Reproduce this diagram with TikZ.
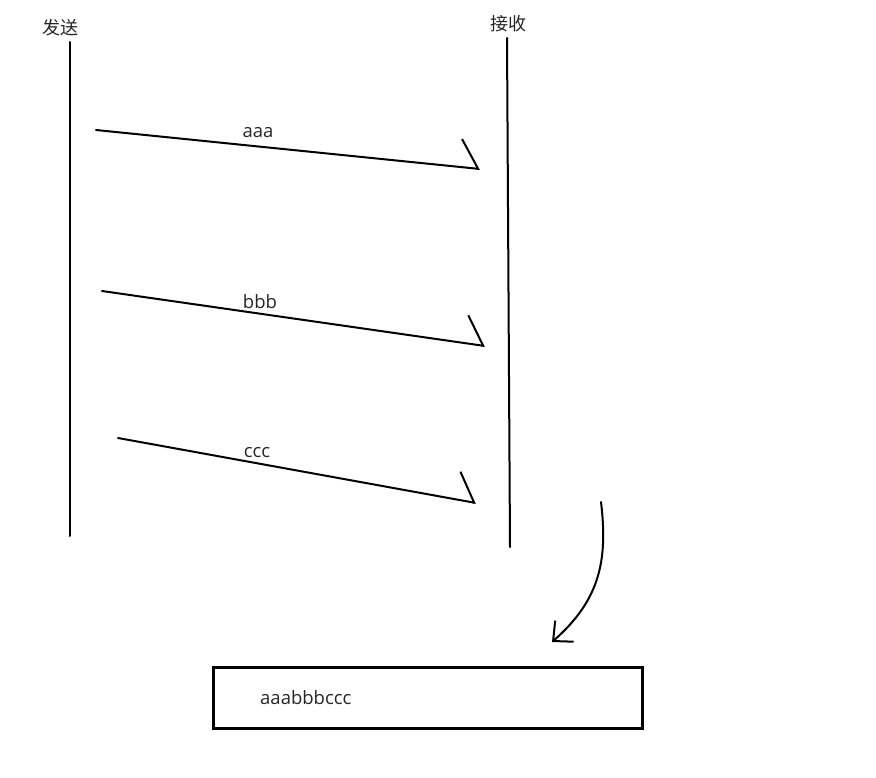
\documentclass[tikz,border=0pt]{standalone}
\usepackage{fontspec}
\setmainfont{Open Sans}
\newfontfamily\cjkfont{Noto Sans CJK SC}
\usetikzlibrary{arrows.meta}
\tikzset{
    lifeline/.style = {line width=2pt, line cap=round},
    msgarrow/.style = {line width=2pt, line cap=round, line join=round,
                       -{Straight Barb[left, length=19pt, width=56pt, line width=2pt]}},
    msglbl/.style   = {font=\fontsize{18.5}{20}\selectfont, inner sep=0pt, text=black!85},
    headlbl/.style  = {font=\cjkfont\fontsize{18}{20}\selectfont, inner sep=0pt, text=black!85},
    mergearrow/.style = {line width=2pt, line cap=round,
                       -{Straight Barb[length=15pt, width=28pt, line width=2pt]}},
    bufbox/.style   = {draw, line width=2.5pt, minimum width=429pt, minimum height=61pt,
                       inner sep=0pt},
}
\begin{document}
\begin{tikzpicture}[x=1pt, y=-1pt]
\useasboundingbox (0,0) rectangle (876,778);

% headings
\node[headlbl] (send) at (60,28) {发送};
\node[headlbl] (recv) at (508,24) {接收};

% life lines
\coordinate (s top) at (70,42);
\coordinate (s bot) at (70,536);
\coordinate (r top) at (507,38);
\coordinate (r bot) at (510,547);
\draw[lifeline] (s top) -- (s bot);
\draw[lifeline] (r top) -- (r bot);

% messages
\coordinate (a1) at (96,130);   \coordinate (a2) at (480,169);
\coordinate (b1) at (102,291);  \coordinate (b2) at (485,346);
\coordinate (c1) at (118,438);  \coordinate (c2) at (476,503);
\draw[msgarrow] (a1) -- (a2);
\draw[msgarrow] (b1) -- (b2);
\draw[msgarrow] (c1) -- (c2);
\node[msglbl] (la) at (258,133) {aaa};
\node[msglbl] (lb) at (260,302) {bbb};
\node[msglbl] (lc) at (257,453) {ccc};

% merged result
\node[bufbox, anchor=north west] (buf) at (212,666) {};
\node[msglbl, anchor=west] (all) at (260,698) {aaabbbccc};

\coordinate (m1) at (601,502);
\coordinate (m2) at (552,642);
\draw[mergearrow] (m1) .. controls (608,560) and (600,600) .. (m2);

\end{tikzpicture}
\end{document}
